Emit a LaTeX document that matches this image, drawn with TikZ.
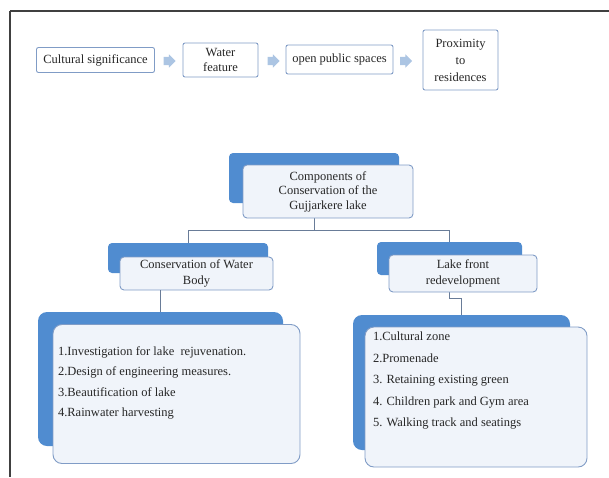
\documentclass[tikz,border=0pt]{standalone}
\usepackage{fontspec}
\setmainfont{Liberation Serif}
\usetikzlibrary{shapes.arrows}
\definecolor{smartblue}{RGB}{80,140,208}
\definecolor{edgeblue}{RGB}{128,156,198}
\definecolor{paleblue}{RGB}{240,244,250}
\definecolor{arrowblue}{RGB}{172,197,227}
\definecolor{connline}{RGB}{105,124,152}
\newcommand{\diagfont}{\fontsize{12.5}{15}\selectfont}
\tikzset{
  flowbox/.style={draw=edgeblue, line width=0.9pt, fill=white, rounded corners=2pt,
    align=center, inner sep=1pt, text=black!85, font=\diagfont},
  flowarrow/.style={single arrow, fill=arrowblue, draw=none, minimum width=13pt,
    minimum height=12pt, single arrow head extend=2.5pt, inner xsep=0pt, inner ysep=4pt},
  backbox/.style={fill=smartblue, rounded corners=4pt, inner sep=0pt},
  frontbox/.style={draw=edgeblue, line width=0.9pt, fill=paleblue, rounded corners=4pt,
    align=center, inner sep=0pt, text=black!85, font=\fontsize{12.5}{15.5}\selectfont},
  listbox/.style={frontbox, rounded corners=9pt, inner ysep=4pt},
  conn/.style={draw=connline, line width=0.8pt},
  frameline/.style={draw=black!75, line width=1.1pt}
}
\begin{document}
\begin{tikzpicture}
   [x=1pt, y=-1pt]
   \useasboundingbox (0,0) rectangle (609,477);
   \draw[frameline] (10,11) -- (609,11);
   \draw[frameline] (10,11) -- (10,477);

   % flow of reasons
   \node[flowbox, minimum width=118pt, minimum height=25pt] (cult) at (95.5,60) {Cultural significance};
   \node[flowarrow] (arr1) at (167.5,61) {};
   \node[flowbox, minimum width=75pt, minimum height=34pt] (water) at (220.5,60) {Water\\feature};
   \node[flowarrow] (arr2) at (271.5,61) {};
   \node[flowbox, minimum width=107pt, minimum height=29pt] (open) at (339.5,59.5) {open public spaces};
   \node[flowarrow] (arr3) at (404,61) {};
   \node[flowbox, minimum width=75pt, minimum height=60pt, font=\fontsize{12.5}{17}\selectfont] (prox) at (460.5,60) {Proximity\\to\\residences};

   % blue shapes behind
   \node[backbox, minimum width=170pt, minimum height=50pt] (compB) at (314,178) {};
   \node[backbox, minimum width=160pt, minimum height=30pt] (leftB) at (188,258) {};
   \node[backbox, minimum width=145pt, minimum height=33pt] (rightB) at (449.5,258.5) {};
   \node[backbox, rounded corners=9pt, minimum width=245pt, minimum height=134pt] (botlB) at (160.5,379) {};
   \node[backbox, rounded corners=9pt, minimum width=217pt, minimum height=135pt] (botrB) at (461.5,382.5) {};

   % connectors
   \draw[conn] (compB.south) -- ++(0,27) -| (leftB.north);
   \draw[conn] (compB.south) -- ++(0,27) -| (rightB.north);
   \draw[conn] (rightB.south) -- ++(0,23) -| (botrB.north);

   % front shapes
   \node[frontbox, minimum width=170pt, minimum height=53pt, font=\fontsize{12.5}{14.5}\selectfont] (comp) at (328,191.5)
      {Components of\\Conservation of the\\Gujjarkere lake};
   \node[frontbox, minimum width=153pt, minimum height=33pt] (left) at (196.5,273.5) {Conservation of Water\\Body};
   \node[frontbox, minimum width=148pt, minimum height=37pt] (right) at (463,273.5) {Lake front\\redevelopment};
   \draw[conn] (botlB.north) -- (botlB.north |- left.south);

   \node[listbox, minimum width=247pt, minimum height=139pt, inner xsep=5pt] (botl) at (176.5,394)
      {\parbox[c][131pt][t]{237pt}{\fontsize{12.5}{20.4}\selectfont\raggedright\vspace*{18pt}%
       1.Investigation for lake\ \ rejuvenation.\\
       2.Design of engineering measures.\\
       3.Beautification of lake\\
       4.Rainwater harvesting}};
   \node[listbox, minimum width=222pt, minimum height=140pt, inner xsep=8pt] (botr) at (476,397)
      {\parbox[c][132pt][t]{206pt}{\fontsize{12.5}{21.5}\selectfont\raggedright\vspace*{1pt}%
       1.Cultural zone\\
       2.Promenade\\
       3. Retaining existing green\\
       4. Children park and Gym area\\
       5. Walking track and seatings}};
\end{tikzpicture}
\end{document}
